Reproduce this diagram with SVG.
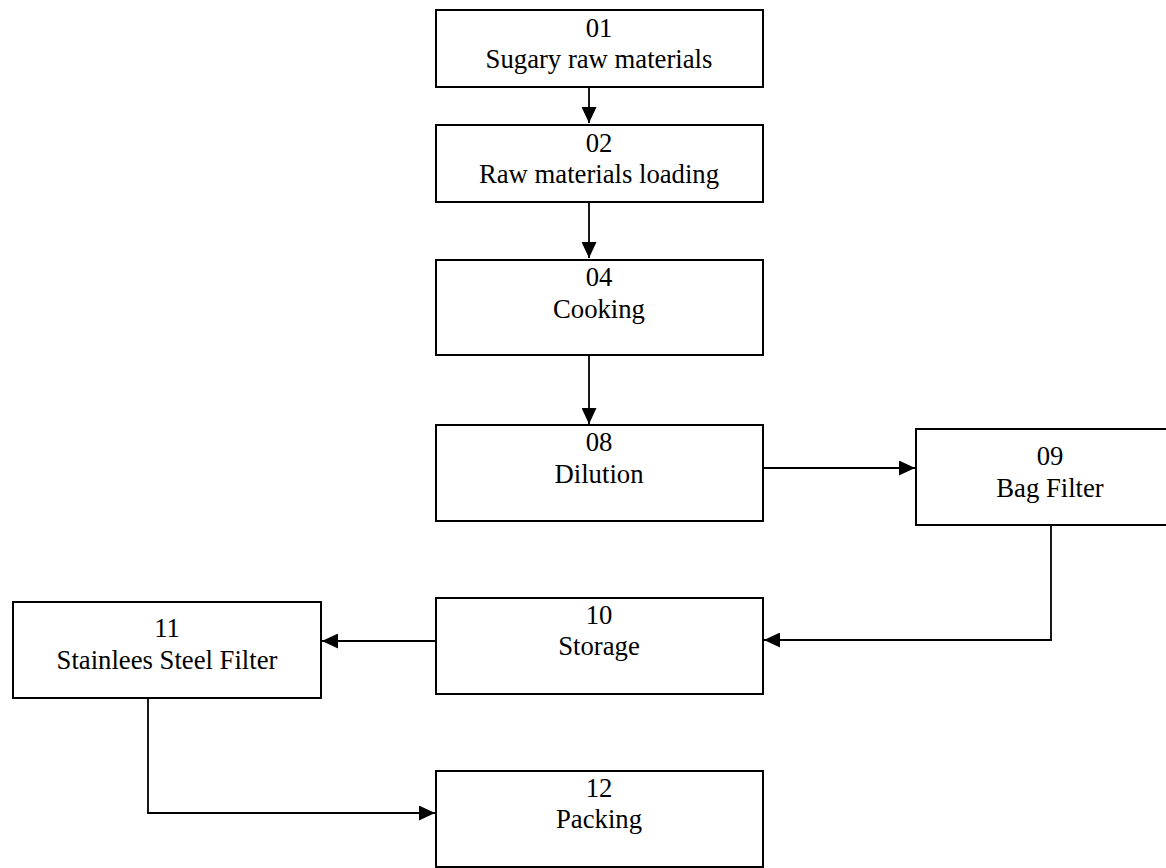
<svg xmlns="http://www.w3.org/2000/svg" width="1166" height="868" viewBox="0 0 1166 868">
<style>
.box{fill:#fff;stroke:#000;stroke-width:2}
.t{font-family:"Liberation Serif","Times New Roman",serif;font-size:26.7px;fill:#000;text-anchor:middle}
.c{fill:none;stroke:#000;stroke-width:1.8}
</style>
<defs>
<marker id="ah" viewBox="0 0 16 15" refX="16" refY="7.5" markerWidth="16" markerHeight="15" markerUnits="userSpaceOnUse" orient="auto">
<path d="M0,0 L16,7.5 L0,15 z" fill="#000"/>
</marker>
</defs>
<rect width="1166" height="868" fill="#fff"/>
<g id="connectors">
<path class="c" d="M589,87 V123" marker-end="url(#ah)"/>
<path class="c" d="M589,202 V258" marker-end="url(#ah)"/>
<path class="c" d="M589,352 V424" marker-end="url(#ah)"/>
<path class="c" d="M763,468 H915" marker-end="url(#ah)"/>
<path class="c" d="M1051,525 V640 H764" marker-end="url(#ah)"/>
<path class="c" d="M436,641 H322" marker-end="url(#ah)"/>
<path class="c" d="M148,698 V813 H435" marker-end="url(#ah)"/>
</g>
<g id="n01"><rect class="box" x="436" y="10" width="327" height="77"/><text class="t" x="599" y="37">01</text><text class="t" x="599" y="68">Sugary raw materials</text></g>
<g id="n02"><rect class="box" x="436" y="125" width="327" height="77"/><text class="t" x="599" y="152">02</text><text class="t" x="599" y="183">Raw materials loading</text></g>
<g id="n04"><rect class="box" x="436" y="260" width="327" height="95"/><text class="t" x="599" y="286">04</text><text class="t" x="599" y="318">Cooking</text></g>
<g id="n08"><rect class="box" x="436" y="425" width="327" height="96"/><text class="t" x="599" y="451">08</text><text class="t" x="599" y="483">Dilution</text></g>
<g id="n09"><rect class="box" x="916" y="429" width="270" height="96"/><text class="t" x="1050" y="465">09</text><text class="t" x="1050" y="497">Bag Filter</text></g>
<g id="n10"><rect class="box" x="436" y="598" width="327" height="96"/><text class="t" x="599" y="624">10</text><text class="t" x="599" y="655">Storage</text></g>
<g id="n11"><rect class="box" x="13" y="602" width="308" height="96"/><text class="t" x="167" y="637">11</text><text class="t" x="167" y="669">Stainlees Steel Filter</text></g>
<g id="n12"><rect class="box" x="436" y="771" width="327" height="96"/><text class="t" x="599" y="797">12</text><text class="t" x="599" y="828">Packing</text></g>
</svg>
